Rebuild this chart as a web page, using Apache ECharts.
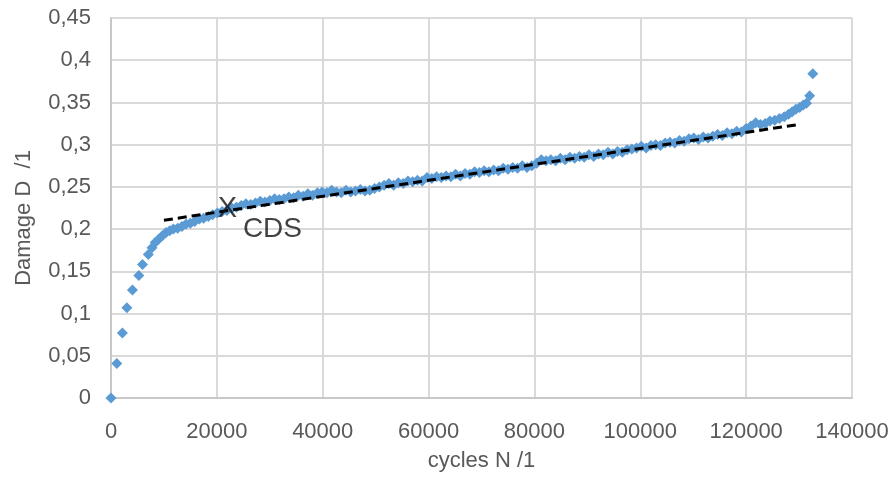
<!DOCTYPE html>
<html>
<head>
<meta charset="utf-8">
<script src="https://cdn.jsdelivr.net/npm/echarts@6/dist/echarts.min.js"></script>
<style>
html,body{margin:0;padding:0;background:#fff;}
#c{width:896px;height:477px;}
</style>
</head>
<body>
<div id="c"></div>
<script>
// cycles N
const cycles = [0,1100,2150,3000,4050,5250,5950,7050,7750,8350,9000,9700,10400,11100,11800,12600,13400,14200,15000,15800,16700,17500,18400,19200,20100,21000,21900,22800,23700,
24600,25500,26400,27300,28200,29100,30000,30900,31800,32700,33600,34500,35400,36300,37200,38100,39000,39900,40800,41700,42600,43500,44400,45300,46200,47100,48000,48900,49800,
50700,51600,52500,53400,54300,55200,56100,57000,57900,58800,59700,60600,61500,62400,63300,64200,65100,66000,66900,67800,68700,69600,70500,71400,72300,73200,74100,75000,75900,
76800,77700,78600,79500,80400,81300,82200,83100,84000,84900,85800,86700,87600,88500,89400,90300,91200,92100,93000,93900,94800,95700,96600,97500,98400,99300,100200,101100,
102000,102900,103800,104700,105600,106500,107400,108300,109200,110100,111000,111900,112800,113700,114600,115500,116400,117300,118200,119100,120000,120900,121800,122700,
123600,124500,125400,126300,127200,128000,128700,129400,130100,130800,131400,132000,132600];
// damage D
const damage = [0.000,0.041,0.077,0.107,0.128,0.145,0.158,0.170,0.178,0.184,0.188,0.192,0.196,0.198,0.200,0.201,0.203,0.206,0.207,0.209,0.212,0.213,0.215,0.217,0.219,0.221,0.222,0.225,0.226,
0.228,0.230,0.229,0.231,0.233,0.232,0.234,0.236,0.235,0.236,0.238,0.237,0.240,0.239,0.242,0.240,0.243,0.244,0.243,0.246,0.244,0.243,0.246,0.244,0.245,0.247,0.245,0.246,0.248,
0.250,0.252,0.254,0.252,0.255,0.254,0.257,0.256,0.258,0.257,0.261,0.260,0.262,0.261,0.263,0.262,0.265,0.263,0.266,0.265,0.268,0.267,0.269,0.268,0.270,0.269,0.272,0.271,0.273,
0.272,0.275,0.273,0.275,0.278,0.282,0.281,0.282,0.281,0.284,0.282,0.285,0.284,0.286,0.285,0.288,0.286,0.289,0.288,0.291,0.289,0.292,0.291,0.294,0.295,0.296,0.298,0.296,
0.299,0.300,0.299,0.302,0.303,0.302,0.305,0.304,0.307,0.308,0.306,0.309,0.308,0.310,0.312,0.311,0.314,0.313,0.316,0.315,0.319,0.322,0.326,0.324,
0.325,0.328,0.329,0.331,0.333,0.336,0.339,0.342,0.344,0.347,0.349,0.358,0.384];
// dashed trend line
const trendX = [10000, 129500];
const trendY = [0.2105, 0.3235];
// CDS point
const cdsX = 22000;
const cdsY = 0.2235;
const xTicks = [0,20000,40000,60000,80000,100000,120000,140000];
const yTicks = ['0','0,05','0,1','0,15','0,2','0,25','0,3','0,35','0,4','0,45'];

const font = 'Liberation Sans';
const txt = '#595959';
const chart = echarts.init(document.getElementById('c'));
chart.setOption({
  animation:false,
  backgroundColor:'#fff',
  grid:{left:111,right:44,top:18,bottom:78,containLabel:false},
  xAxis:{
    type:'value',min:xTicks[0],max:xTicks[xTicks.length-1],interval:20000,
    name:'cycles N /1',nameLocation:'middle',nameGap:52,
    nameTextStyle:{fontFamily:font,fontSize:22,color:txt},
    axisLine:{show:true,lineStyle:{color:'#c8c8c8',width:2}},
    axisTick:{show:false},
    axisLabel:{fontFamily:font,fontSize:22,color:txt,margin:23,
      formatter:function(v){return String(v);}},
    splitLine:{show:true,lineStyle:{color:'#d9d9d9',width:2}}
  },
  yAxis:{
    type:'value',min:0,max:0.45,interval:0.05,
    name:'Damage D  /1',nameLocation:'middle',nameGap:76,
    nameTextStyle:{fontFamily:font,fontSize:22,color:txt,padding:[0,20,0,0]},
    axisLine:{show:true,lineStyle:{color:'#c8c8c8',width:2}},
    axisTick:{show:false},
    axisLabel:{fontFamily:font,fontSize:22,color:txt,margin:20,
      formatter:function(v){return yTicks[Math.round(v/0.05)];}},
    splitLine:{show:true,lineStyle:{color:'#d9d9d9',width:2}}
  },
  series:[
    {
      type:'scatter',symbol:'diamond',symbolSize:11,
      itemStyle:{color:'#5b9bd5',opacity:1},
      data:cycles.map((c,i)=>[c,damage[i]]),z:2
    },
    {
      type:'line',symbol:'none',
      lineStyle:{color:'#000',width:3,type:[9,5]},
      data:trendX.map((c,i)=>[c,trendY[i]]),z:3
    },
    {
      type:'scatter',symbolSize:0,z:4,
      data:[
        {value:[cdsX,cdsY],label:{show:true,formatter:'X',position:'inside',fontFamily:font,fontSize:29,color:'#111'}},
        {value:[cdsX,cdsY],label:{show:true,formatter:'CDS',position:'inside',offset:[45,20],fontFamily:font,fontSize:28,color:'#111'}}
      ]
    }
  ]
});
</script>
</body>
</html>
